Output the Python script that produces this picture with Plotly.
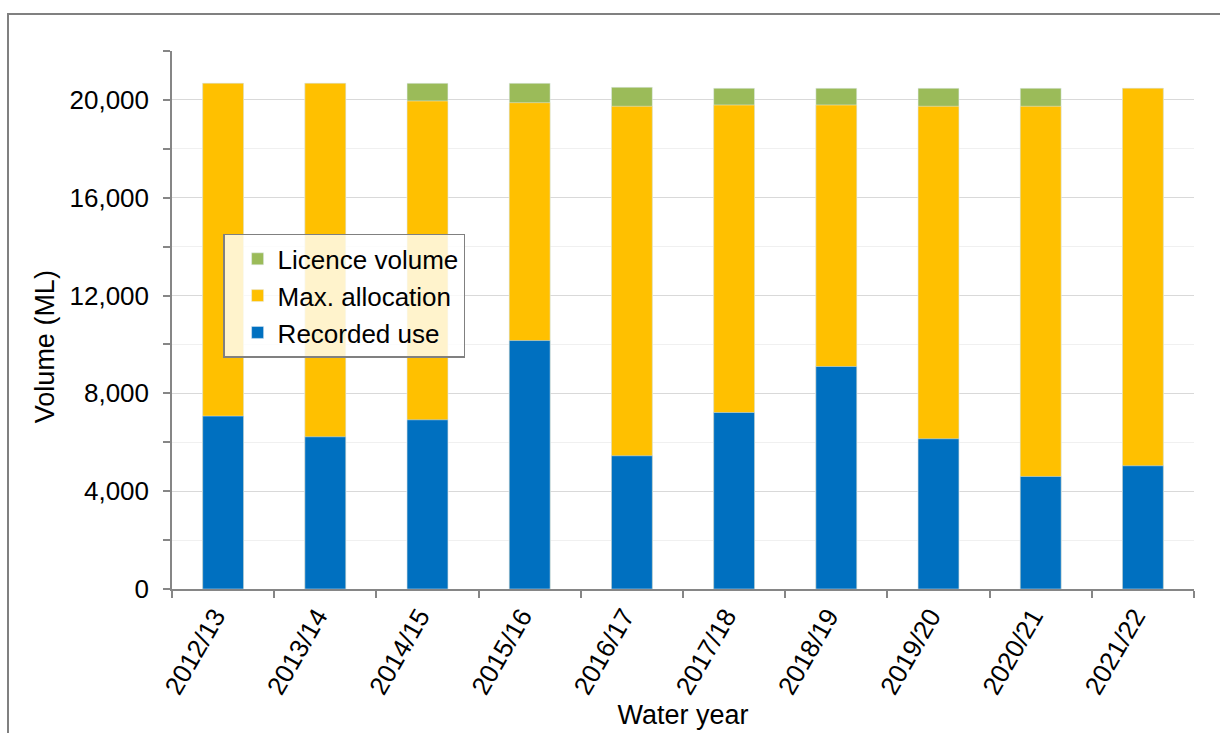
import plotly.graph_objects as go

# Water years on the category axis
years = ["2012/13", "2013/14", "2014/15", "2015/16", "2016/17",
         "2017/18", "2018/19", "2019/20", "2020/21", "2021/22"]

# Volumes in ML
licence_volume = [20680, 20680, 20680, 20680, 20517, 20476, 20476, 20476, 20476, 20476]
max_allocation = [20680, 20680, 19957, 19887, 19740, 19793, 19793, 19740, 19740, 20476]
recorded_use = [7070, 6224, 6919, 10160, 5448, 7218, 9098, 6143, 4602, 5039]

y_ticks = [0, 4000, 8000, 12000, 16000, 20000]

GREEN = "#9BBB59"
YELLOW = "#FFC000"
BLUE = "#0070C0"
AXIS = "#868686"
FONT = "Liberation Sans, Arial, sans-serif"
TICK_SIZE = 26
TITLE_SIZE = 27

fig = go.Figure()
# Bars overlap fully: licence volume behind, allocation, then recorded use in front
fig.add_trace(go.Bar(x=years, y=licence_volume, name="Licence volume",
                     marker_color=GREEN, legendgroup="a"))
fig.add_trace(go.Bar(x=years, y=max_allocation, name="Max. allocation",
                     marker_color=YELLOW, legendgroup="b"))
fig.add_trace(go.Bar(x=years, y=recorded_use, name="Recorded use",
                     marker_color=BLUE, legendgroup="c"))

fig.update_layout(
    width=1220, height=733,
    margin=dict(l=172, r=26, t=51, b=144),
    paper_bgcolor="white", plot_bgcolor="white",
    barmode="overlay", bargap=0.6,
    font=dict(family=FONT, size=TICK_SIZE, color="#000000"),
    showlegend=True,
    legend=dict(
        x=0.05, y=0.66, xanchor="left", yanchor="top",
        bgcolor="rgba(255,255,255,0.8)",
        bordercolor="#808080", borderwidth=1.5,
        font=dict(family=FONT, size=TICK_SIZE, color="#000000"),
        tracegroupgap=10, indentation=13,
        traceorder="normal",
    ),
    xaxis=dict(
        title=dict(text="Water year", font=dict(size=TITLE_SIZE), standoff=2),
        tickangle=-60,
        showline=True, linecolor=AXIS, linewidth=1.5,
        ticks="outside", ticklen=7, tickcolor=AXIS, tickwidth=1.5,
        tickson="boundaries",
        showgrid=False,
        tickfont=dict(size=TICK_SIZE),
        ticklabelshift=-8,
    ),
    yaxis=dict(
        range=[0, 22000],
        tickvals=y_ticks, tickformat=",",
        showline=True, linecolor=AXIS, linewidth=1.5,
        ticks="outside", ticklen=7, tickcolor=AXIS, tickwidth=1.5,
        showgrid=True, gridcolor="#d9d9d9", gridwidth=1,
        zeroline=False,
        minor=dict(dtick=2000, ticks="outside", ticklen=7, tickcolor=AXIS,
                   tickwidth=1.5, showgrid=True, gridcolor="#f0f0f0"),
        tickfont=dict(size=TICK_SIZE),
        ticklabelstandoff=9,
    ),
    yaxis2=dict(
        overlaying="y", matches="y", side="left",
        tickvals=y_ticks, showticklabels=False,
        ticks="inside", ticklen=8, tickcolor=AXIS, tickwidth=1.5,
        showgrid=False, showline=False, zeroline=False,
    ),
)

# Y-axis title placed as free text
fig.add_annotation(text="Volume (ML)", xref="paper", yref="paper",
                   x=-0.124, y=0.45, xanchor="center", yanchor="middle",
                   textangle=-90, showarrow=False,
                   font=dict(family=FONT, size=TITLE_SIZE, color="#000000"))

# Chart-area frame
fig.add_shape(type="rect", xref="paper", yref="paper",
              x0=(8 - 172) / 1022, x1=(1240 - 172) / 1022,
              y0=(589 - 760) / 538, y1=(589 - 14) / 538,
              line=dict(color="#808080", width=2), fillcolor="rgba(0,0,0,0)",
              layer="below")

fig.write_html("out.html")
